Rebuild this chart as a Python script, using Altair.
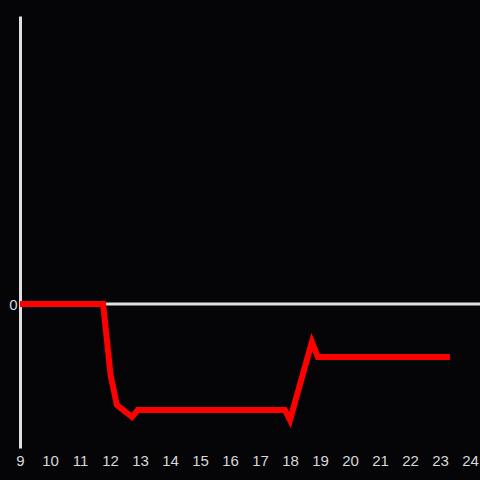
import altair as alt
import pandas as pd
import jinja2

hours = [9.0, 11.77, 12.02, 12.23, 12.73, 12.93, 17.83, 18.0, 18.73, 18.93, 23.33]
values = [0.0, 0.0, -24.7, -35.1, -39.2, -36.8, -36.8, -40.3, -13.2, -18.4, -18.4]
x_ticks = list(range(9, 25))
zero_level = [0]

BG = "#050407"

df = pd.DataFrame({"hour": hours, "value": values})

xs = alt.Scale(domain=[9, 24], nice=False, zero=False)
ys = alt.Scale(domain=[-50, 100], nice=False, zero=False)

y_axis = alt.Axis(values=zero_level, domain=True, domainColor="#e0e0e0", domainWidth=3,
                  ticks=False, grid=False, labelColor="#d8d8d8", labelFontSize=15,
                  labelFont="Liberation Sans", labelPadding=3)

zero_rule = alt.Chart(pd.DataFrame({"value": zero_level})).mark_rule(
    color="#e0e0e0", strokeWidth=3
).encode(
    y=alt.Y("value:Q", scale=ys, title=None, axis=y_axis),
    x=alt.value(0),
    x2=alt.value(460),
)

line = alt.Chart(df).mark_line(
    color="#ff0000", strokeWidth=6, strokeCap="butt", strokeJoin="miter"
).encode(
    x=alt.X("hour:Q", scale=xs, title=None,
            axis=alt.Axis(values=x_ticks, domain=False, ticks=False, grid=False,
                          labelColor="#d8d8d8", labelFontSize=15, labelFont="Liberation Sans",
                          labelPadding=5, labelFlush=False, labelOverlap=False, format="d")),
    y=alt.Y("value:Q", scale=ys, title=None, axis=y_axis),
)

chart = alt.layer(zero_rule, line).properties(
    width=450, height=432,
    background=BG,
    padding={"left": 20, "top": 16, "right": 10, "bottom": 32},
    autosize=alt.AutoSizeParams(type="none"),
).configure_view(stroke=None)

TEMPLATE = jinja2.Template("""<!DOCTYPE html>
<html>
<head>
  <style>
    html, body { background: """ + BG + """; margin: 0; padding: 0; overflow: hidden; }
    #{{ output_div }}.vega-embed { width: 100%; display: flex; }
  </style>
  <script type="text/javascript" src="{{ base_url }}/vega@{{ vega_version }}"></script>
  <script type="text/javascript" src="{{ base_url }}/vega-lite@{{ vegalite_version }}"></script>
  <script type="text/javascript" src="{{ base_url }}/vega-embed@{{ vegaembed_version }}"></script>
</head>
<body>
  <div id="{{ output_div }}"></div>
  <script>
    (function(vegaEmbed) {
      var spec = {{ spec }};
      var embedOpt = {{ embed_options }};
      function showError(el, error){
          el.innerHTML = ('<div style="color:red;"><p>JavaScript Error: ' + error.message + '</p></div>');
          throw error;
      }
      const el = document.getElementById('{{ output_div }}');
      vegaEmbed("#{{ output_div }}", spec, embedOpt).catch(error => showError(el, error));
    })(vegaEmbed);
  </script>
</body>
</html>
""")

try:
    chart.save("out.html", embed_options={"renderer": "svg", "actions": False}, template=TEMPLATE)
except Exception:
    chart.save("out.html", embed_options={"renderer": "svg", "actions": False})
